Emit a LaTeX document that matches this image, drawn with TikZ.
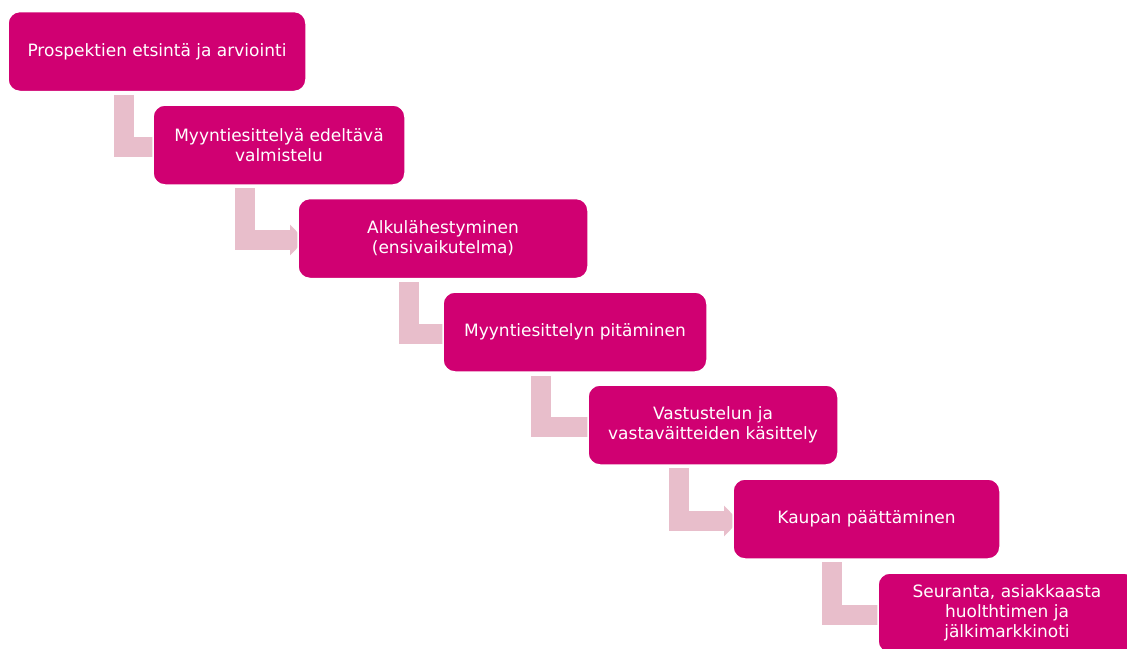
\documentclass[tikz,border=0pt]{standalone}
\usepackage{fontspec}
\setmainfont{DejaVu Sans}
\usetikzlibrary{arrows.meta,calc}
\definecolor{boxcol}{RGB}{208,0,114}
\definecolor{conncol}{RGB}{232,190,203}
\begin{document}
\begin{tikzpicture}[x=1pt,y=-1pt,
  stepbox/.style={rectangle, rounded corners=12pt, fill=boxcol, draw=white, line width=1.5pt,
    text=white, align=center, inner sep=0pt, font=\fontsize{17}{20}\selectfont},
  conn/.style={draw=conncol, line width=20pt, line join=miter,
    -{Triangle[length=15pt,width=30pt]}}]
\clip (0,0) rectangle (1127,648);
\useasboundingbox (0,0) rectangle (1127,648);
\fill[white] (0,0) rectangle (1127,648);

\coordinate (s1) at (124,95);
\coordinate (s2) at (245,188);
\coordinate (s3) at (409,282);
\coordinate (s4) at (541,376);
\coordinate (s5) at (679,468);
\coordinate (s6) at (832,562);

% node positions (defined first, painted later)
\path
  (157,51.5) coordinate (p1)
  (279,145) coordinate (p2)
  (443,238.5) coordinate (p3)
  (575,332) coordinate (p4)
  (713,425) coordinate (p5)
  (866.5,519) coordinate (p6)
  (1007,613) coordinate (p7);

% connectors (under the boxes)
\draw[conn] (s1) |- ($(p2)+(-126+17,2)$);
\draw[conn] (s2) |- ($(p3)+(-145+7,1.5)$);
\draw[conn] (s3) |- ($(p4)+(-132+17,2)$);
\draw[conn] (s4) |- ($(p5)+(-125+17,2)$);
\draw[conn] (s5) |- ($(p6)+(-133.5+6,2)$);
\draw[conn] (s6) |- ($(p7)+(-129+17,2)$);

\node[stepbox, minimum width=298pt, minimum height=80pt] (b1) at (p1) {Prospektien etsintä ja arviointi};
\node[stepbox, minimum width=252pt, minimum height=80pt] (b2) at (p2) {Myyntiesittelyä edeltävä\\valmistelu};
\node[stepbox, minimum width=290pt, minimum height=80pt] (b3) at (p3) {Alkulähestyminen\\(ensivaikutelma)};
\node[stepbox, minimum width=264pt, minimum height=80pt] (b4) at (p4) {Myyntiesittelyn pitäminen};
\node[stepbox, minimum width=250pt, minimum height=80pt] (b5) at (p5) {Vastustelun ja\\vastaväitteiden käsittely};
\node[stepbox, minimum width=267pt, minimum height=80pt] (b6) at (p6) {Kaupan päättäminen};
\node[stepbox, minimum width=258pt, minimum height=80pt] (b7) at (p7) {Seuranta, asiakkaasta\\huolthtimen ja\\jälkimarkkinoti};
\end{tikzpicture}
\end{document}
